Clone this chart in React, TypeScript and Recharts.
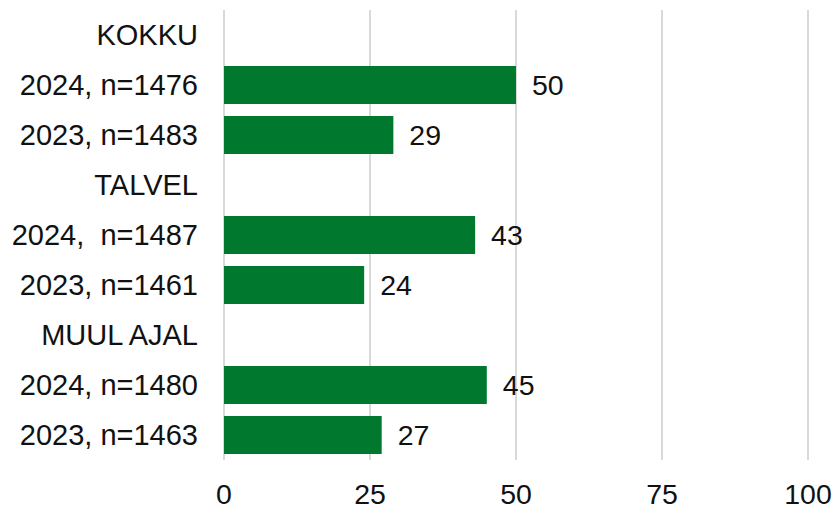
import { BarChart, Bar, XAxis, YAxis, CartesianGrid, LabelList } from "recharts";

const categories = [
  "KOKKU",
  "2024, n=1476",
  "2023, n=1483",
  "TALVEL",
  "2024,  n=1487",
  "2023, n=1461",
  "MUUL AJAL",
  "2024, n=1480",
  "2023, n=1463",
];

const values: (number | null)[] = [null, 50, 29, null, 43, 24, null, 45, 27];

const xTicks = [0, 25, 50, 75, 100];

const data = categories.map((name, i) => ({ name, value: values[i] }));

const FONT = "'Liberation Sans', Arial, sans-serif";

function CategoryTick(props: any) {
  const { x, y, payload } = props;
  return (
    <text
      x={x}
      y={y}
      dy="0.355em"
      textAnchor="end"
      fontSize={29}
      fontFamily={FONT}
      fill="#111"
      style={{ whiteSpace: "pre" }}
      xmlSpace="preserve"
    >
      {payload.value}
    </text>
  );
}

export default function App() {
  return (
    <div style={{ position: "absolute", left: 0, top: 0, background: "#fff" }}>
      <BarChart
        width={836}
        height={509}
        data={data}
        layout="vertical"
        margin={{ top: 10, right: 28, bottom: 0, left: 0 }}
        barCategoryGap={6}
      >
        <CartesianGrid horizontal={false} stroke="#d9d9d9" strokeWidth={2} />
        <XAxis
          type="number"
          domain={[0, 100]}
          ticks={xTicks}
          axisLine={false}
          tickLine={false}
          tickSize={0}
          tickMargin={24}
          height={49}
          interval={0}
          tick={{ fontSize: 28.5, fontFamily: FONT, fill: "#111" }}
        />
        <YAxis
          type="category"
          dataKey="name"
          width={224}
          axisLine={false}
          tickLine={false}
          tickSize={0}
          tickMargin={26}
          interval={0}
          tick={<CategoryTick />}
        />
        <Bar dataKey="value" fill="#00782D" barSize={38} isAnimationActive={false}>
          <LabelList
            dataKey="value"
            position="right"
            offset={16}
            style={{ fontSize: 28.5, fontFamily: FONT, fill: "#111" }}
          />
        </Bar>
      </BarChart>
    </div>
  );
}
